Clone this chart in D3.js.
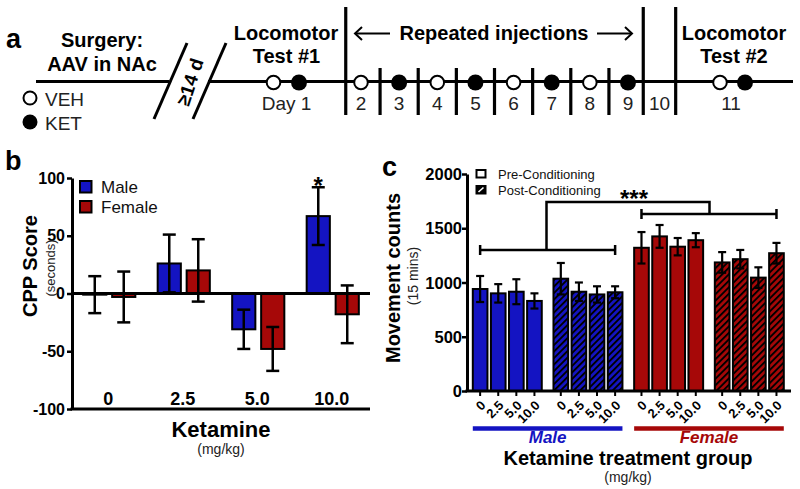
<!DOCTYPE html>
<html>
<head>
<meta charset="utf-8">
<script src="https://cdn.jsdelivr.net/npm/d3@7"></script>
<style>
html,body{margin:0;padding:0;background:#fff;}
svg{display:block;font-family:"Liberation Sans",Arial,sans-serif;}
</style>
</head>
<body>
<svg id="fig" width="800" height="489"></svg>
<script>
// ---------- DATA ----------
const injectionDays = [2, 3, 4, 5, 6, 7, 8, 9];
const injectionTreat = ["VEH", "KET", "VEH", "KET", "VEH", "KET", "VEH", "KET"];
const testTreat = ["VEH", "KET"];
const restDay = 10;

const doses = ["0", "2.5", "5.0", "10.0"];
const sexes = ["Male", "Female"];
const cppMale = [-1, 26, -31, 67];
const cppMaleErr = [16, 25, 17, 25];
const cppFemale = [-3, 20, -48, -18];
const cppFemaleErr = [22, 27, 19, 25];
const cppTicks = [-100, -50, 0, 50, 100];

const moveGroups = ["MalePre", "MalePost", "FemalePre", "FemalePost"];
const moveMalePre = [940, 900, 915, 830];
const moveMalePreErr = [120, 85, 115, 70];
const moveMalePost = [1035, 915, 890, 910];
const moveMalePostErr = [145, 85, 75, 55];
const moveFemalePre = [1320, 1425, 1330, 1390];
const moveFemalePreErr = [145, 105, 80, 65];
const moveFemalePost = [1185, 1215, 1045, 1270];
const moveFemalePostErr = [95, 85, 95, 95];
const moveTicks = [0, 500, 1000, 1500, 2000];

// ---------- STYLE ----------
const BLUE = "#1414c2";
const RED = "#a60808";

const svg = d3.select("#fig");
const defs = svg.append("defs");
function hatch(id, bg, fg, size, w) {
  const p = defs.append("pattern").attr("id", id).attr("patternUnits", "userSpaceOnUse")
    .attr("width", size).attr("height", size).attr("patternTransform", "rotate(45)");
  p.append("rect").attr("width", size).attr("height", size).attr("fill", bg);
  p.append("rect").attr("width", w).attr("height", size).attr("fill", fg);
}
hatch("hBlue", BLUE, "#000", 4.6, 1.9);
hatch("hRed", RED, "#000", 4.6, 1.9);

function txt(g, x, y, s, size, opts = {}) {
  return g.append("text").attr("x", x).attr("y", y).text(s)
    .style("font-size", size + "px").style("font-weight", opts.w || "normal")
    .style("font-style", opts.i ? "italic" : "normal")
    .attr("text-anchor", opts.a || "middle").attr("fill", opts.c || "#000");
}
function ln(g, x1, y1, x2, y2, w = 3) {
  return g.append("line").attr("x1", x1).attr("y1", y1).attr("x2", x2).attr("y2", y2)
    .attr("stroke", "#000").attr("stroke-width", w);
}

// ---------- PANEL A : timeline ----------
const A = svg.append("g");
txt(A, 6, 48, "a", 27, {w: "bold", a: "start"});
const dayX = d3.scaleLinear().domain([2, 9]).range([361, 628]);
const lineY = 81.5;
ln(A, 36, lineY, 169, lineY);
ln(A, 208, lineY, 793, lineY);
ln(A, 154, 119, 187, 43);
ln(A, 193, 119, 226, 43);
A.append("text").attr("transform", "translate(190,82) rotate(-72)")
  .attr("text-anchor", "middle").attr("dy", "0.35em")
  .style("font-size", "19px").style("font-weight", "bold").text("≥14 d");

txt(A, 102, 47, "Surgery:", 20, {w: "bold"});
txt(A, 102, 71, "AAV in NAc", 20, {w: "bold"});

A.append("circle").attr("cx", 30).attr("cy", 98).attr("r", 6.5).attr("fill", "#fff").attr("stroke", "#000").attr("stroke-width", 2);
A.append("circle").attr("cx", 30).attr("cy", 122).attr("r", 7.5).attr("fill", "#000");
txt(A, 45, 106, "VEH", 19, {a: "start", c: "#222"});
txt(A, 45, 130, "KET", 19, {a: "start", c: "#222"});

const tallX = [dayX(1.6), dayX(9.4), dayX(10.25)];
tallX.forEach(x => ln(A, x, 7, x, 115, 3.2));
d3.range(2, 9).forEach(d => ln(A, dayX(d + 0.5), 68, dayX(d + 0.5), 115, 3.2));

function dot(g, x, t) {
  if (t === "VEH") g.append("circle").attr("cx", x).attr("cy", lineY + 1).attr("r", 6.8)
    .attr("fill", "#fff").attr("stroke", "#000").attr("stroke-width", 2);
  else g.append("circle").attr("cx", x).attr("cy", lineY + 1).attr("r", 8).attr("fill", "#000");
}
injectionDays.forEach((d, i) => {
  dot(A, dayX(d), injectionTreat[i]);
  txt(A, dayX(d), 110, String(d), 19, {c: "#222"});
});
txt(A, (tallX[1] + tallX[2]) / 2, 110, String(restDay), 19, {c: "#222"});

const test1X = 286.5, test2X = 732.5;
testTreat.forEach((t, i) => { dot(A, test1X + (i ? 12.5 : -13), t); dot(A, test2X + (i ? 12.5 : -12.5), t); });
txt(A, test1X, 110, "Day 1", 19, {c: "#222"});
txt(A, 731, 110, "11", 19, {c: "#222"});
txt(A, 286, 40, "Locomotor", 20, {w: "bold"});
txt(A, 286.5, 63, "Test #1", 20, {w: "bold"});
txt(A, 734, 40, "Locomotor", 20, {w: "bold"});
txt(A, 734, 63, "Test #2", 20, {w: "bold"});
txt(A, 494, 40, "Repeated injections", 20, {w: "bold"});
ln(A, 355, 33.5, 390, 33.5, 2);
A.append("polyline").attr("points", "362,27 355,33.5 362,40").attr("fill", "none").attr("stroke", "#000").attr("stroke-width", 2);
ln(A, 597, 33.5, 632, 33.5, 2);
A.append("polyline").attr("points", "625,27 632,33.5 625,40").attr("fill", "none").attr("stroke", "#000").attr("stroke-width", 2);

// ---------- PANEL B : CPP ----------
const B = svg.append("g");
txt(B, 5, 170, "b", 27, {w: "bold", a: "start"});
const yB = d3.scaleLinear().domain([-100, 100]).range([409, 178]);
const xB = d3.scaleBand().domain(doses).range([72, 370]).paddingInner(0.3).paddingOuter(0.15);
const xBs = d3.scaleBand().domain(sexes).range([0, xB.bandwidth()]).paddingInner(0.2);
const cppData = doses.flatMap((d, i) => [
  {dose: d, sex: "Male", v: cppMale[i], e: cppMaleErr[i], fill: BLUE},
  {dose: d, sex: "Female", v: cppFemale[i], e: cppFemaleErr[i], fill: RED}
]);

B.selectAll("rect.bar").data(cppData).join("rect").attr("class", "bar")
  .attr("x", d => xB(d.dose) + xBs(d.sex))
  .attr("width", xBs.bandwidth())
  .attr("y", d => Math.min(yB(d.v), yB(0)))
  .attr("height", d => Math.abs(yB(d.v) - yB(0)))
  .attr("fill", d => d.fill).attr("stroke", "#000").attr("stroke-width", 2);

B.append("line").attr("x1", 72).attr("x2", 370).attr("y1", yB(0)).attr("y2", yB(0)).attr("stroke", "#000").attr("stroke-width", 3);

const ebB = B.selectAll("g.eb").data(cppData).join("g").attr("class", "eb")
  .attr("transform", d => `translate(${xB(d.dose) + xBs(d.sex) + xBs.bandwidth() / 2},0)`);
ebB.append("line").attr("y1", d => yB(d.v - d.e)).attr("y2", d => yB(d.v + d.e)).attr("stroke", "#000").attr("stroke-width", 2.5);
ebB.append("line").attr("x1", -6.5).attr("x2", 6.5).attr("y1", d => yB(d.v + d.e)).attr("y2", d => yB(d.v + d.e)).attr("stroke", "#000").attr("stroke-width", 2.5);
ebB.append("line").attr("x1", -6.5).attr("x2", 6.5).attr("y1", d => yB(d.v - d.e)).attr("y2", d => yB(d.v - d.e)).attr("stroke", "#000").attr("stroke-width", 2.5);

const axB = B.append("g").attr("transform", "translate(72,0)")
  .call(d3.axisLeft(yB).tickValues(cppTicks).tickFormat("").tickSize(5).tickSizeOuter(0));
axB.select(".domain").attr("stroke-width", 3);
axB.selectAll(".tick line").attr("stroke-width", 2.5);
axB.selectAll(".tick text").remove();
cppTicks.forEach(t => txt(B, 65, yB(t) + 5.5, String(t), 16, {w: "bold", a: "end"}));
B.append("line").attr("x1", 70.5).attr("x2", 370).attr("y1", 409).attr("y2", 409).attr("stroke", "#000").attr("stroke-width", 3);
doses.forEach(d => txt(B, xB(d) + xB.bandwidth() / 2 - 1, 405, d, 18, {w: "bold"}));

txt(B, xB("10.0") + xBs("Male") + xBs.bandwidth() / 2, 194, "*", 24, {w: "bold"});

txt(B, 221, 437, "Ketamine", 22, {w: "bold"});
txt(B, 221, 454, "(mg/kg)", 14, {c: "#222"});
B.append("text").attr("transform", "translate(37,266) rotate(-90)").attr("text-anchor", "middle")
  .style("font-size", "20px").style("font-weight", "bold").text("CPP Score");
B.append("text").attr("transform", "translate(55,268) rotate(-90)").attr("text-anchor", "middle")
  .style("font-size", "13px").attr("fill", "#222").text("(seconds)");

[["Male", BLUE, 181], ["Female", RED, 201]].forEach(([s, c, y]) => {
  B.append("rect").attr("x", 80).attr("y", y).attr("width", 11.5).attr("height", 11.5).attr("fill", c).attr("stroke", "#000").attr("stroke-width", 2);
  txt(B, 101, y + 12, s, 17, {a: "start", c: "#111"});
});

// ---------- PANEL C : movement ----------
const C = svg.append("g");
txt(C, 382, 176, "c", 27, {w: "bold", a: "start"});
const yC = d3.scaleLinear().domain([0, 2000]).range([391, 174]);
const xC = d3.scaleBand().domain(moveGroups).range([472.8, 783.8]).paddingInner(0.145).paddingOuter(0);
const xCs = d3.scaleBand().domain(doses).range([0, xC.bandwidth()]).paddingInner(0.19);
const moveVals = {MalePre: [moveMalePre, moveMalePreErr], MalePost: [moveMalePost, moveMalePostErr],
  FemalePre: [moveFemalePre, moveFemalePreErr], FemalePost: [moveFemalePost, moveFemalePostErr]};
const moveData = moveGroups.flatMap(g => doses.map((d, i) => ({
  g, dose: d, v: moveVals[g][0][i], e: moveVals[g][1][i],
  fill: g === "MalePre" ? BLUE : g === "MalePost" ? "url(#hBlue)" : g === "FemalePre" ? RED : "url(#hRed)"
})));
const cx = d => xC(d.g) + xCs(d.dose) + xCs.bandwidth() / 2;

C.selectAll("rect.bar").data(moveData).join("rect").attr("class", "bar")
  .attr("x", d => xC(d.g) + xCs(d.dose)).attr("width", xCs.bandwidth())
  .attr("y", d => yC(d.v)).attr("height", d => yC(0) - yC(d.v))
  .attr("fill", d => d.fill).attr("stroke", "#000").attr("stroke-width", 2);
const ebC = C.selectAll("g.eb").data(moveData).join("g").attr("class", "eb").attr("transform", d => `translate(${cx(d)},0)`);
ebC.append("line").attr("y1", d => yC(d.v - d.e)).attr("y2", d => yC(d.v + d.e)).attr("stroke", "#000").attr("stroke-width", 2.2);
ebC.append("line").attr("x1", -4).attr("x2", 4).attr("y1", d => yC(d.v + d.e)).attr("y2", d => yC(d.v + d.e)).attr("stroke", "#000").attr("stroke-width", 2.2);
ebC.append("line").attr("x1", -4).attr("x2", 4).attr("y1", d => yC(d.v - d.e)).attr("y2", d => yC(d.v - d.e)).attr("stroke", "#000").attr("stroke-width", 2.2);

const axC = C.append("g").attr("transform", "translate(467,0)")
  .call(d3.axisLeft(yC).tickValues(moveTicks).tickFormat("").tickSize(5).tickSizeOuter(0));
axC.select(".domain").attr("stroke-width", 3);
axC.selectAll(".tick line").attr("stroke-width", 2.5);
axC.selectAll(".tick text").remove();
moveTicks.forEach(t => txt(C, 462, yC(t) + 6, String(t), 16.5, {w: "bold", a: "end"}));
C.append("line").attr("x1", 465.5).attr("x2", 791).attr("y1", 391).attr("y2", 391).attr("stroke", "#000").attr("stroke-width", 3);
C.selectAll("line.xt").data(moveData).join("line").attr("class", "xt")
  .attr("x1", cx).attr("x2", cx).attr("y1", 391).attr("y2", 396).attr("stroke", "#000").attr("stroke-width", 2);
C.selectAll("text.xl").data(moveData).join("text").attr("class", "xl")
  .attr("transform", d => `translate(${cx(d) + 3},403) rotate(-45)`)
  .attr("text-anchor", "end").attr("dy", "0.35em")
  .style("font-size", "13px").style("font-weight", "bold").text(d => d.dose);

const sexLines = [["Male", ["MalePre", "MalePost"], BLUE], ["Female", ["FemalePre", "FemalePost"], RED]];
sexLines.forEach(([s, gs, c]) => {
  const x1 = xC(gs[0]), x2 = xC(gs[1]) + xC.bandwidth();
  C.append("line").attr("x1", x1).attr("x2", x2).attr("y1", 428.5).attr("y2", 428.5).attr("stroke", c).attr("stroke-width", 4.5);
  txt(C, (x1 + x2) / 2, 443, s, 17, {w: "bold", i: true, c});
});
txt(C, 628, 465, "Ketamine treatment group", 20, {w: "bold"});
txt(C, 628, 482, "(mg/kg)", 14, {c: "#222"});
C.append("text").attr("transform", "translate(400,278) rotate(-90)").attr("text-anchor", "middle")
  .style("font-size", "20px").style("font-weight", "bold").text("Movement counts");
C.append("text").attr("transform", "translate(418,276) rotate(-90)").attr("text-anchor", "middle")
  .style("font-size", "14px").attr("fill", "#222").text("(15 mins)");

C.append("rect").attr("x", 476.5).attr("y", 170).attr("width", 9).attr("height", 7.5).attr("fill", "#fff").attr("stroke", "#000").attr("stroke-width", 2);
C.append("rect").attr("x", 476.5).attr("y", 186).attr("width", 9).attr("height", 7.5).attr("fill", "#000").attr("stroke", "#000").attr("stroke-width", 2);
C.append("line").attr("x1", 478.5).attr("y1", 192).attr("x2", 483.5).attr("y2", 187.5).attr("stroke", "#fff").attr("stroke-width", 1.6);
txt(C, 498, 179, "Pre-Conditioning", 13, {a: "start", c: "#111"});
txt(C, 498, 195, "Post-Conditioning", 13, {a: "start", c: "#111"});

const maleL = cx(moveData[0]), maleR = cx(moveData[7]);
const femL = cx(moveData[8]), femR = cx(moveData[15]);
const bM = 250, bF = 214, bTop = 202;
const br = C.append("g").attr("stroke", "#000").attr("stroke-width", 2.5).attr("fill", "none");
br.append("line").attr("x1", maleL).attr("x2", maleR).attr("y1", bM).attr("y2", bM);
br.append("line").attr("x1", maleL).attr("x2", maleL).attr("y1", bM - 5).attr("y2", bM + 5);
br.append("line").attr("x1", maleR).attr("x2", maleR).attr("y1", bM - 5).attr("y2", bM + 5);
br.append("line").attr("x1", femL).attr("x2", femR).attr("y1", bF).attr("y2", bF);
br.append("line").attr("x1", femL).attr("x2", femL).attr("y1", bF - 5).attr("y2", bF + 5);
br.append("line").attr("x1", femR).attr("x2", femR).attr("y1", bF - 5).attr("y2", bF + 5);
const mMid = 546.5, fMid = 709.5;
br.append("polyline").attr("points", `${mMid},${bM} ${mMid},${bTop} ${fMid},${bTop} ${fMid},${bF}`);
txt(C, 634, 207, "***", 24, {w: "bold"});
</script>
</body>
</html>
